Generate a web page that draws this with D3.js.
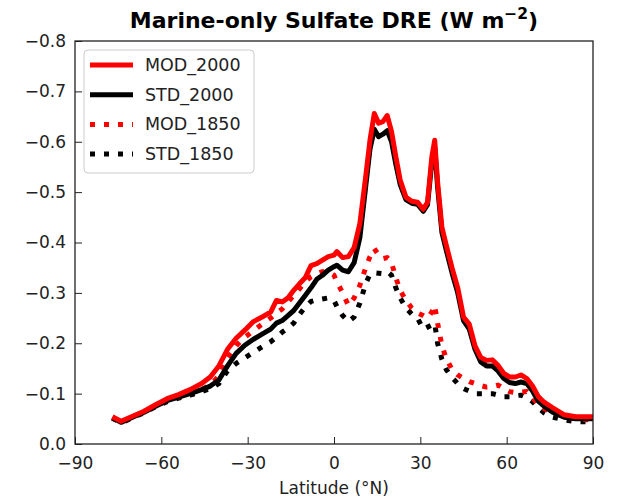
<!DOCTYPE html>
<html><head><meta charset="utf-8">
<script src="https://cdn.jsdelivr.net/npm/d3@7/dist/d3.min.js"></script>
<style>body{margin:0;background:#fff;} text{font-family:"DejaVu Sans",sans-serif;}</style>
</head><body><svg id="c" width="618" height="503"></svg>
<script>
const lats = [-77,-74,-70,-66,-62,-58,-54,-50,-46,-43,-40,-37,-34,-31,-28,-25,-22,-20,-18,-16,-14,-12,-10,-8,-6,-4,-2,0,1,3,5,7,9,11,12.5,14,15.5,17,18.5,20,21.5,23,25,27,29,31,32.5,34,35,36,37.5,39,41,43,45,47,49,51,53,55,57,59,61,63,65,67,69,71,73,76,80,84,88,90];
const mod2000 = [-0.054,-0.045,-0.055,-0.065,-0.078,-0.09,-0.098,-0.108,-0.120,-0.133,-0.155,-0.188,-0.21,-0.226,-0.243,-0.252,-0.262,-0.285,-0.282,-0.29,-0.305,-0.318,-0.33,-0.354,-0.358,-0.365,-0.372,-0.375,-0.382,-0.37,-0.372,-0.39,-0.438,-0.53,-0.603,-0.656,-0.637,-0.64,-0.652,-0.62,-0.57,-0.524,-0.49,-0.482,-0.48,-0.466,-0.48,-0.57,-0.603,-0.52,-0.43,-0.395,-0.35,-0.31,-0.252,-0.238,-0.195,-0.172,-0.166,-0.167,-0.156,-0.14,-0.133,-0.133,-0.137,-0.13,-0.115,-0.094,-0.083,-0.072,-0.058,-0.054,-0.054,-0.054];
const std2000 = [-0.052,-0.043,-0.053,-0.063,-0.075,-0.086,-0.093,-0.1,-0.108,-0.115,-0.127,-0.155,-0.18,-0.196,-0.208,-0.218,-0.228,-0.24,-0.245,-0.255,-0.265,-0.28,-0.295,-0.31,-0.327,-0.335,-0.345,-0.352,-0.355,-0.345,-0.342,-0.36,-0.41,-0.51,-0.585,-0.625,-0.61,-0.615,-0.622,-0.6,-0.555,-0.515,-0.485,-0.478,-0.476,-0.462,-0.475,-0.56,-0.59,-0.51,-0.42,-0.385,-0.34,-0.3,-0.245,-0.228,-0.188,-0.163,-0.155,-0.155,-0.145,-0.13,-0.122,-0.12,-0.123,-0.12,-0.105,-0.085,-0.075,-0.063,-0.053,-0.05,-0.05,-0.05];
const mod1850 = [-0.052,-0.043,-0.053,-0.063,-0.075,-0.086,-0.093,-0.1,-0.108,-0.117,-0.135,-0.17,-0.195,-0.212,-0.225,-0.238,-0.25,-0.26,-0.268,-0.282,-0.295,-0.308,-0.322,-0.332,-0.338,-0.342,-0.342,-0.335,-0.322,-0.3,-0.275,-0.29,-0.315,-0.35,-0.372,-0.388,-0.375,-0.368,-0.37,-0.36,-0.33,-0.305,-0.285,-0.27,-0.26,-0.255,-0.25,-0.262,-0.275,-0.24,-0.195,-0.17,-0.148,-0.137,-0.13,-0.124,-0.12,-0.116,-0.113,-0.114,-0.117,-0.11,-0.104,-0.102,-0.103,-0.104,-0.092,-0.078,-0.07,-0.063,-0.054,-0.05,-0.048,-0.048];
const std1850 = [-0.051,-0.042,-0.052,-0.062,-0.074,-0.084,-0.091,-0.097,-0.104,-0.11,-0.12,-0.145,-0.16,-0.171,-0.182,-0.193,-0.203,-0.212,-0.222,-0.23,-0.24,-0.257,-0.272,-0.283,-0.286,-0.288,-0.29,-0.285,-0.273,-0.255,-0.243,-0.252,-0.28,-0.318,-0.337,-0.34,-0.339,-0.338,-0.342,-0.335,-0.31,-0.29,-0.27,-0.258,-0.25,-0.228,-0.232,-0.236,-0.24,-0.2,-0.168,-0.148,-0.132,-0.12,-0.11,-0.105,-0.1,-0.1,-0.1,-0.1,-0.097,-0.094,-0.094,-0.096,-0.097,-0.092,-0.084,-0.072,-0.062,-0.053,-0.048,-0.044,-0.044,-0.044];
const xTicks = [-90,-60,-30,0,30,60,90];
const yTicks = [0,-0.1,-0.2,-0.3,-0.4,-0.5,-0.6,-0.7,-0.8];
const seriesNames = ["MOD_2000","STD_2000","MOD_1850","STD_1850"];
const seriesColors = ["#ff0000","#000000","#ff0000","#000000"];
const seriesDashed = [false,false,true,true];
const seriesValues = [mod2000,std2000,mod1850,std1850];

const svg = d3.select("#c");
const L=75,R=593,T=41,B=444;
const x = d3.scaleLinear().domain([-90,90]).range([L,R]);
const y = d3.scaleLinear().domain([0,-0.8]).range([B,T]);
const fmtY = d3.format(".1f"), fmtX = d3.format("d");

const plot = svg.append("g");
const line = d3.line().x((d,i)=>x(lats[i])).y(d=>y(d));
// draw order: dotted first, then solid
[3,2,1,0].forEach(k=>{
  plot.append("path").datum(seriesValues[k]).attr("d",line)
    .attr("fill","none").attr("stroke",seriesColors[k]).attr("stroke-width",5)
    .attr("stroke-linejoin","round")
    .attr("stroke-dasharray",seriesDashed[k]?"5,9":null);
});

// axes
const gx = svg.append("g").attr("transform",`translate(0,${B})`)
  .call(d3.axisBottom(x).tickValues(xTicks).tickFormat(fmtX).tickSizeInner(-7).tickSizeOuter(0).tickPadding(13));
const gy = svg.append("g").attr("transform",`translate(${L},0)`)
  .call(d3.axisLeft(y).tickValues(yTicks).tickFormat(fmtY).tickSizeInner(-7).tickSizeOuter(0).tickPadding(9));
[gx,gy].forEach(g=>{
  g.select(".domain").remove();
  g.selectAll("line").attr("stroke","#222").attr("stroke-width",1);
  g.selectAll("text").attr("font-family","DejaVu Sans").attr("font-size",17).attr("fill","#222");
});
svg.append("rect").attr("x",L).attr("y",T).attr("width",R-L).attr("height",B-T)
  .attr("fill","none").attr("stroke","#222").attr("stroke-width",1.3);

// title
const title = svg.append("text").attr("x",(L+R)/2).attr("y",28).attr("text-anchor","middle")
  .attr("font-size",22).attr("font-weight","bold").attr("fill","#000");
title.append("tspan").text("Marine-only Sulfate DRE (W m");
title.append("tspan").attr("font-size",15.5).attr("dy",-9).text("−2");
title.append("tspan").attr("dy",9).text(")");

svg.append("text").attr("x",(L+R)/2).attr("y",494).attr("text-anchor","middle")
  .attr("font-size",17).attr("fill","#222").text("Latitude (°N)");

// legend
const lg = svg.append("g");
lg.append("rect").attr("x",84).attr("y",50).attr("width",170).attr("height",123).attr("rx",4)
  .attr("fill","#fff").attr("fill-opacity",0.8).attr("stroke","#ccc").attr("stroke-width",1);
seriesNames.forEach((n,i)=>{
  const yy = 65 + i*29.7;
  lg.append("line").attr("x1",90).attr("x2",133).attr("y1",yy).attr("y2",yy)
    .attr("stroke",seriesColors[i]).attr("stroke-width",5)
    .attr("stroke-dasharray",seriesDashed[i]?"5,9":null);
  lg.append("text").attr("x",145).attr("y",yy+6).attr("font-size",17.5).attr("fill","#222").text(n);
});
</script></body></html>
